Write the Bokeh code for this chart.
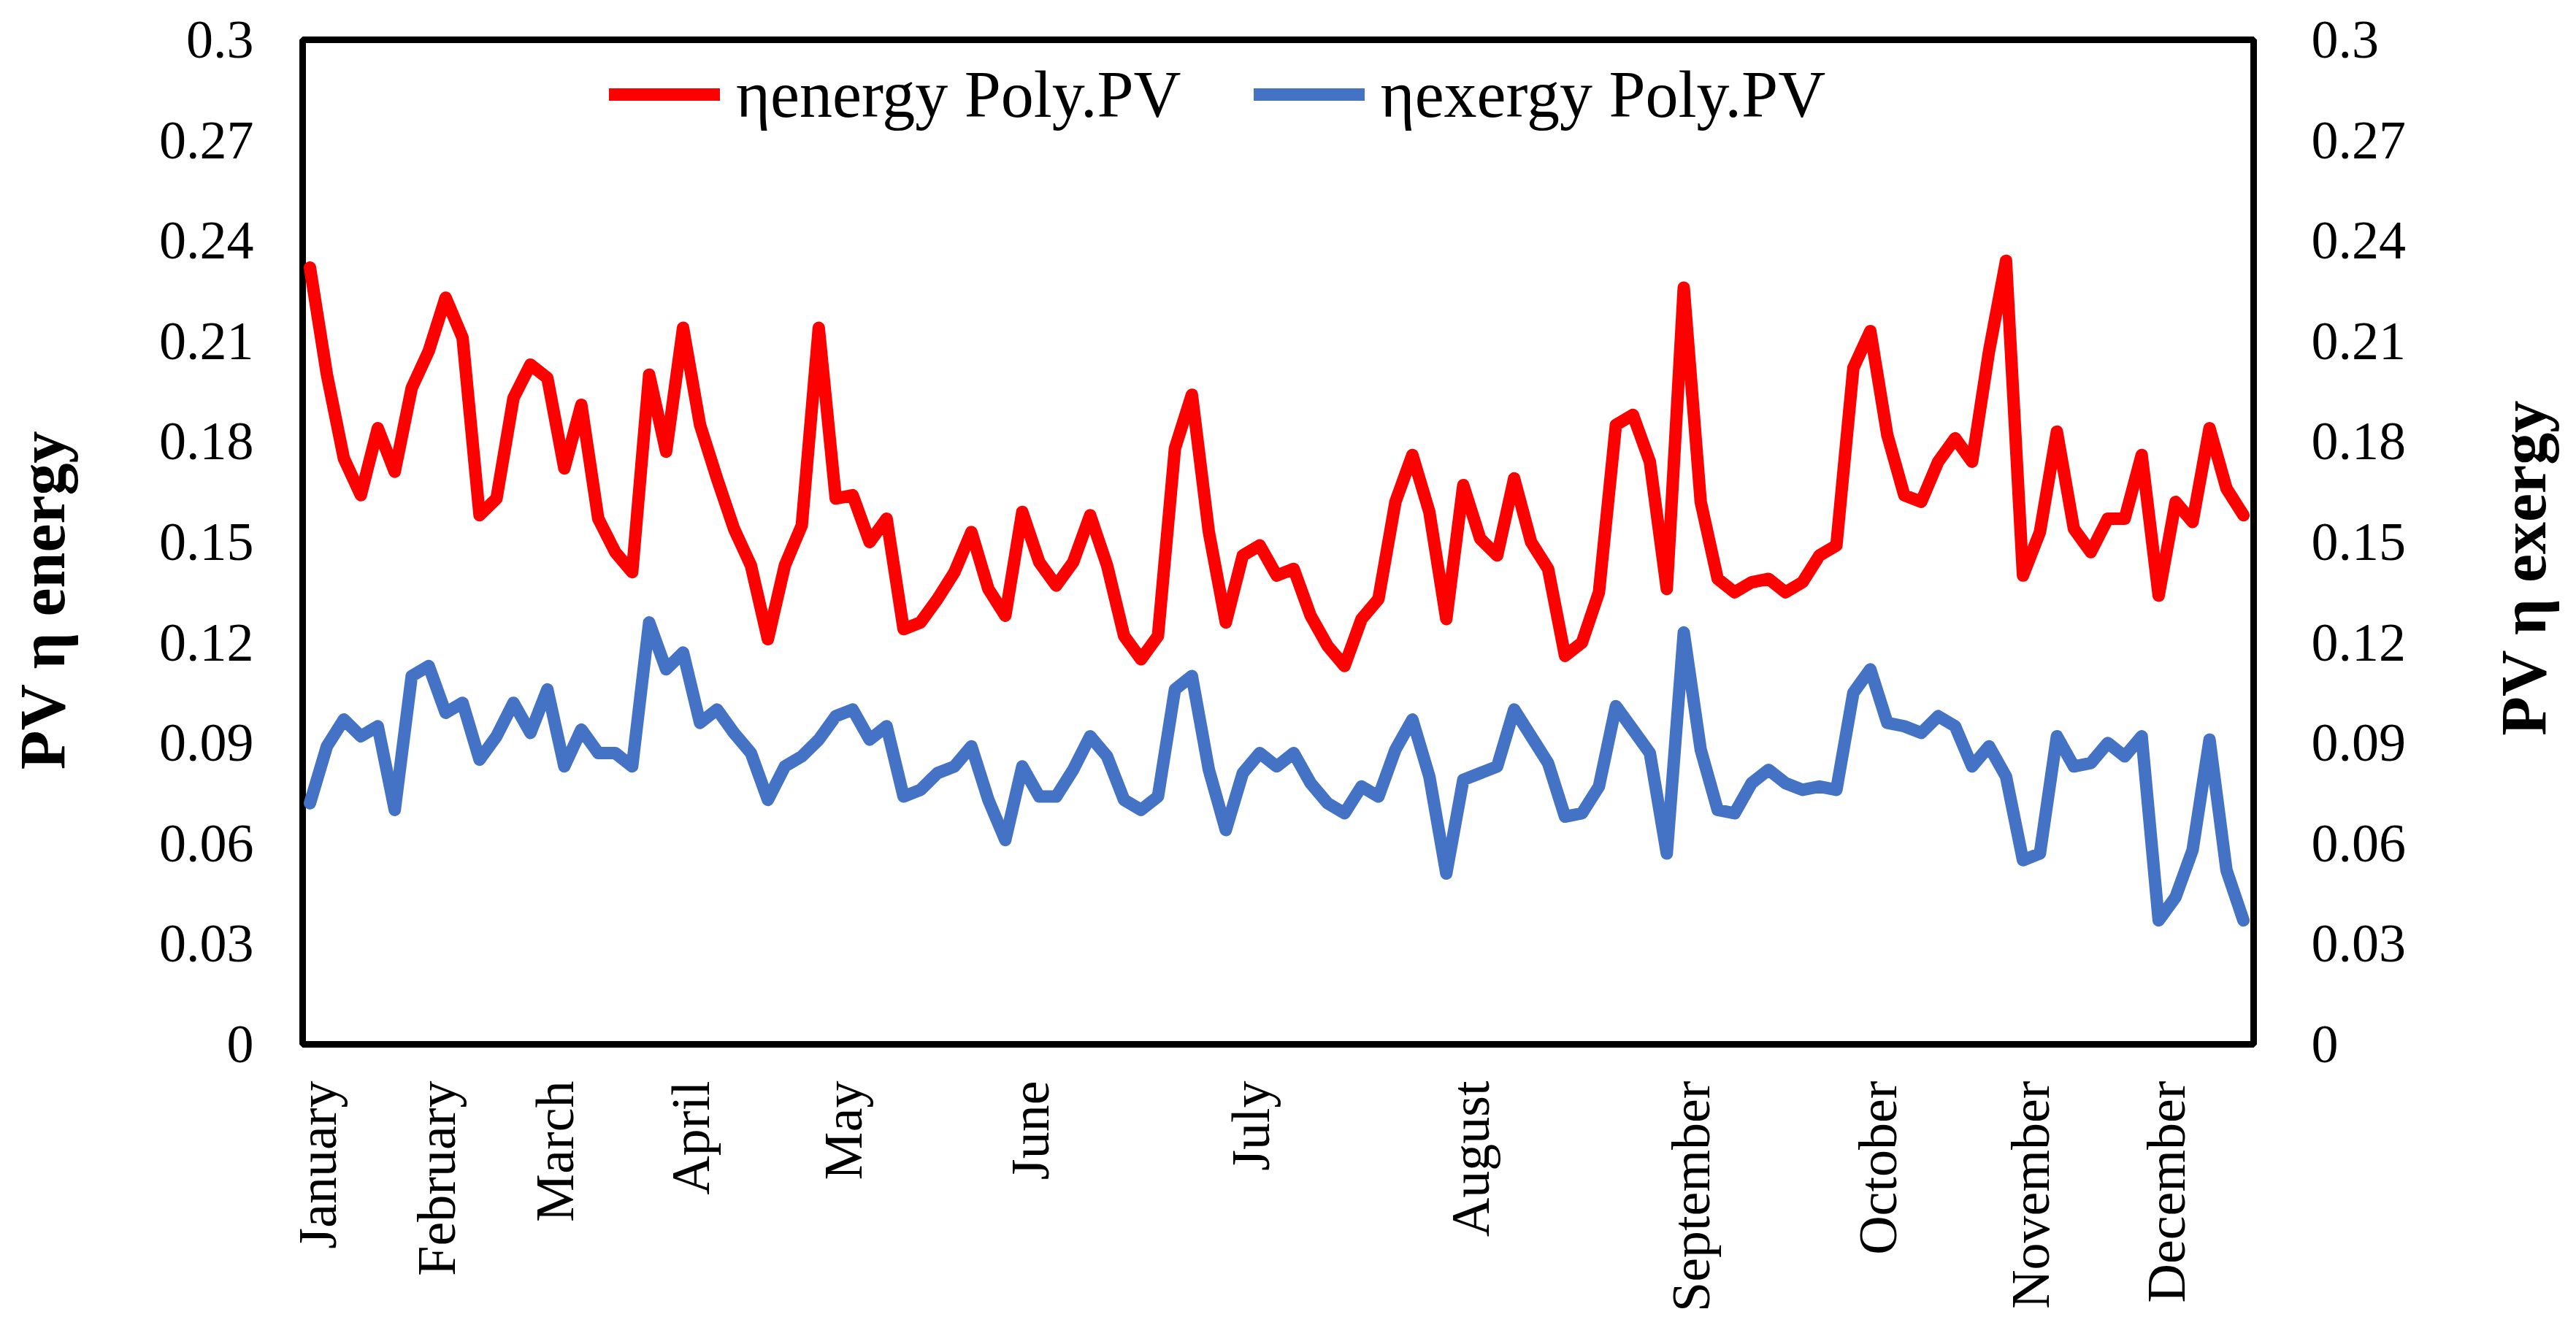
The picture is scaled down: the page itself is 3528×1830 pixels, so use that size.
import math
from bokeh.plotting import figure
from bokeh.layouts import row
from bokeh.models import (Range1d, LinearAxis, FixedTicker, NumeralTickFormatter,
                          Legend, LegendItem, Label)
from bokeh.embed import file_html
from bokeh.resources import INLINE

# ---------------- data ----------------
energy = [0.232, 0.200, 0.175, 0.164, 0.184, 0.171, 0.196, 0.207, 0.223, 0.211,
          0.158, 0.163, 0.193, 0.203, 0.199, 0.172, 0.191, 0.157, 0.147, 0.141,
          0.200, 0.177, 0.214, 0.185, 0.169, 0.154, 0.143, 0.121, 0.143, 0.155,
          0.214, 0.163, 0.164, 0.150, 0.157, 0.124, 0.126, 0.133, 0.141, 0.153,
          0.136, 0.128, 0.159, 0.144, 0.137, 0.144, 0.158, 0.143, 0.122, 0.115,
          0.122, 0.178, 0.194, 0.153, 0.126, 0.146, 0.149, 0.140, 0.142, 0.128,
          0.119, 0.113, 0.127, 0.133, 0.162, 0.176, 0.159, 0.127, 0.167, 0.151,
          0.146, 0.169, 0.150, 0.142, 0.116, 0.120, 0.135, 0.185, 0.188, 0.174,
          0.136, 0.226, 0.162, 0.139, 0.135, 0.138, 0.139, 0.135, 0.138, 0.146,
          0.149, 0.202, 0.213, 0.182, 0.164, 0.162, 0.174, 0.181, 0.174, 0.207,
          0.234, 0.140, 0.153, 0.183, 0.154, 0.147, 0.157, 0.157, 0.176, 0.134,
          0.162, 0.156, 0.184, 0.166, 0.158]

exergy = [0.072, 0.089, 0.097, 0.092, 0.095, 0.070, 0.110, 0.113, 0.099, 0.102,
          0.085, 0.092, 0.102, 0.093, 0.106, 0.083, 0.094, 0.087, 0.087, 0.083,
          0.126, 0.112, 0.117, 0.096, 0.100, 0.093, 0.087, 0.073, 0.083, 0.086,
          0.091, 0.098, 0.100, 0.091, 0.095, 0.074, 0.076, 0.081, 0.083, 0.089,
          0.073, 0.061, 0.083, 0.074, 0.074, 0.082, 0.092, 0.086, 0.073, 0.070,
          0.074, 0.106, 0.110, 0.082, 0.064, 0.081, 0.087, 0.083, 0.087, 0.078,
          0.072, 0.069, 0.077, 0.074, 0.088, 0.097, 0.080, 0.051, 0.079, 0.081,
          0.083, 0.100, 0.092, 0.084, 0.068, 0.069, 0.077, 0.101, 0.094, 0.087,
          0.057, 0.123, 0.088, 0.070, 0.069, 0.078, 0.082, 0.078, 0.076, 0.077,
          0.076, 0.105, 0.112, 0.096, 0.095, 0.093, 0.098, 0.095, 0.083, 0.089,
          0.080, 0.055, 0.057, 0.092, 0.083, 0.084, 0.090, 0.086, 0.092, 0.037,
          0.044, 0.058, 0.091, 0.052, 0.037]

months = ["January", "February", "March", "April", "May", "June", "July",
          "August", "September", "October", "November", "December"]
month_start_index = [0, 7, 14, 22, 31, 42, 55, 68, 81, 92, 101, 109]

y_ticks = [0, 0.03, 0.06, 0.09, 0.12, 0.15, 0.18, 0.21, 0.24, 0.27, 0.3]

series_names = ["\u03b7energy Poly.PV", "\u03b7exergy Poly.PV"]
left_title = "PV \u03b7 energy"
right_title = "PV \u03b7 exergy"

x = list(range(len(energy)))

# ---------------- layout sizes ----------------
FONT = "Liberation Serif"
TOTAL_W, TOTAL_H = 3512, 1814
SIDE_W = 180            # narrow strips that carry the rotated axis titles
MAIN_W = TOTAL_W - 2 * SIDE_W

# ---------------- main figure ----------------
p = figure(width=MAIN_W, height=TOTAL_H, output_backend="svg", toolbar_location=None,
           x_range=Range1d(-0.43, 114.6), y_range=Range1d(0, 0.3),
           min_border_left=234, min_border_right=246, min_border_top=54,
           min_border_bottom=384)
p.xgrid.visible = False
p.ygrid.visible = False
p.background_fill_color = "white"
p.border_fill_color = "white"
p.outline_line_color = "black"
p.outline_line_width = 9
p.outline_line_alpha = 1.0

r1 = p.line(x, energy, line_color="#FF0000", line_width=17,
            line_join="round", line_cap="round")
r2 = p.line(x, exergy, line_color="#4472C4", line_width=17,
            line_join="round", line_cap="round")

def style_axis(ax):
    ax.axis_line_color = None
    ax.major_tick_line_color = None
    ax.minor_tick_line_color = None
    ax.major_tick_out = 0
    ax.major_tick_in = 0
    ax.major_label_text_font = FONT
    ax.major_label_text_font_size = "74px"
    ax.major_label_text_color = "black"

# x axis: month names at the first sample of each month
label_shift = 0.45
month_ticks = [i + label_shift for i in month_start_index]
xa = p.xaxis[0]
xa.ticker = FixedTicker(ticks=month_ticks)
xa.major_label_overrides = {t: m for t, m in zip(month_ticks, months)}
xa.major_label_orientation = math.pi / 2
style_axis(xa)
xa.major_label_standoff = 50

# left y axis
ya = p.yaxis[0]
ya.ticker = FixedTicker(ticks=y_ticks)
ya.formatter = NumeralTickFormatter(format="0.[00]")
style_axis(ya)
ya.major_label_standoff = 67

# right y axis
p.extra_y_ranges = {"right": Range1d(0, 0.3)}
yr = LinearAxis(y_range_name="right")
yr.ticker = FixedTicker(ticks=y_ticks)
yr.formatter = NumeralTickFormatter(format="0.[00]")
style_axis(yr)
yr.major_label_standoff = 79
p.add_layout(yr, "right")

# legend
legend = Legend(items=[LegendItem(label=series_names[0], renderers=[r1]),
                       LegendItem(label=series_names[1], renderers=[r2])],
                orientation="horizontal", location=(420, 1246),
                padding=0, margin=0, spacing=99,
                glyph_width=152, glyph_height=110, label_height=110,
                label_standoff=22, label_text_font=FONT,
                label_text_font_size="90px", label_text_color="black",
                border_line_color=None, background_fill_alpha=0)
p.add_layout(legend)

# ---------------- side strips with the axis titles ----------------
# (their frames line up with the main frame, so y is measured from its bottom)
def title_strip(text, cx, cy_up):
    s = figure(width=SIDE_W, height=TOTAL_H, output_backend="svg",
               toolbar_location=None, x_axis_type=None, y_axis_type=None,
               x_range=Range1d(0, 1), y_range=Range1d(0, 1),
               min_border=0, min_border_left=0, min_border_right=0,
               min_border_top=0, min_border_bottom=0)
    s.grid.visible = False
    s.outline_line_color = None
    s.background_fill_color = "white"
    s.border_fill_color = "white"
    s.add_layout(Label(x=cx, y=cy_up, x_units="screen",
                       y_units="screen", text=text, angle=math.pi / 2,
                       text_align="center", text_baseline="middle",
                       text_font=FONT, text_font_size="88px",
                       text_font_style="bold", text_color="black"))
    return s

left_strip = title_strip(left_title, 58, 609)
right_strip = title_strip(right_title, 124, 653)

layout = row(left_strip, p, right_strip, spacing=0)

open("out.html", "w").write(file_html(layout, INLINE))
